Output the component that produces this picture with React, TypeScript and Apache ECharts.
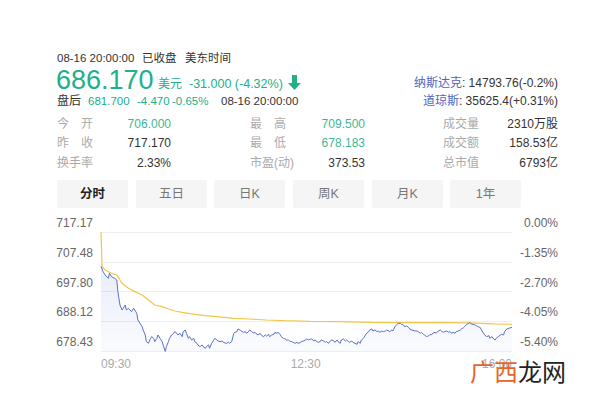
import React, { useEffect, useRef } from "react";
import * as echarts from "echarts";

const FONT = '"Liberation Sans", "Noto Sans CJK SC", sans-serif';
const GREEN = "#22b089";

// minutes since 09:30
const priceMinutes = [
  0, 2, 4, 7, 8, 10, 13, 15, 16, 18, 20, 21, 23, 24, 26, 29, 31, 32, 34, 35,
  37, 39, 40, 42, 43, 45, 47, 48, 50, 51, 53, 54, 56, 58, 59, 61, 62, 64, 65, 67,
  69, 70, 72, 73, 75, 77, 78, 80, 81, 83, 84, 86, 88, 89, 91, 92, 94, 96, 97, 99,
  100, 102, 103, 105, 107, 108, 110, 111, 113, 115, 116, 119, 121, 122, 124, 126, 127, 129, 130, 132,
  133, 135, 137, 138, 140, 141, 143, 145, 146, 148, 149, 151, 152, 154, 156, 157, 159, 160, 162, 164,
  165, 167, 168, 170, 171, 173, 175, 176, 178, 179, 181, 183, 184, 186, 187, 189, 190, 192, 194, 195,
  197, 198,
  200, 202, 203, 205, 206, 208, 209, 211, 213, 214, 216, 217, 219, 221, 222, 224, 225, 227, 228, 230,
  232, 233, 235, 236, 238, 239, 241, 243, 244, 246, 247, 249, 251, 252, 254, 255, 257, 258, 260, 262,
  263, 265, 266, 268, 270, 271, 273, 274, 276, 277, 279, 281, 282, 284, 285, 287, 288, 290, 292, 293,
  295, 298,
  300, 301, 303, 304, 306, 307, 309, 311, 312, 314, 315, 317, 318, 320, 322, 323, 325, 326, 328, 330,
  331, 333, 334, 336, 337, 339, 341, 342, 344, 345, 347, 349, 350, 352, 353, 355, 356, 358, 360, 361,
  363, 364, 366, 368, 369, 371, 372, 374, 375, 377, 379, 380, 382, 383, 385, 387, 390,
];

const prices = [
  706.0, 704.26, 703.18, 702.09, 703.72, 702.63, 702.09, 701.55, 697.75, 693.41,
  691.78, 692.33, 693.41, 691.78, 692.33, 691.24, 692.33, 691.78, 690.7, 688.53,
  687.44, 686.36, 685.27, 683.65, 681.48, 680.93, 682.56, 683.1, 682.56, 681.48,
  682.56, 683.65, 682.56, 681.48, 680.39, 678.18, 679.85, 681.48, 682.56, 683.65,
  684.19, 684.73, 684.19, 683.65, 684.19, 683.1, 684.73, 685.27, 684.19, 682.56,
  683.1, 682.02, 682.56, 681.48, 680.93, 680.39, 679.85, 680.39, 679.85, 679.3,
  679.85, 680.39, 679.3, 680.93, 682.02, 682.56, 682.02, 681.69, 681.48, 681.69,
  681.26, 680.93, 681.26, 680.93, 681.48, 684.19, 684.51, 684.73, 685.6, 685.27,
  684.95, 684.51, 684.73, 684.19, 684.73, 685.27, 684.73, 684.19, 684.51, 683.86,
  683.65, 684.19, 683.65, 683.1, 683.65, 683.32, 683.86, 683.1, 683.65, 683.86,
  684.51, 684.19, 684.51, 683.86, 683.1, 682.56, 682.34, 682.02, 682.02, 681.69,
  681.48, 681.15, 680.93, 681.26, 680.93, 681.15, 681.48, 681.69, 682.02, 682.34,
  682.02, 682.23,
  682.34, 681.69, 682.02, 681.48, 681.26, 681.48, 682.02, 681.69, 681.26, 681.48,
  680.93, 681.48, 682.02, 681.69, 681.26, 682.02, 681.48, 680.93, 682.02, 682.34,
  681.69, 682.02, 681.48, 681.26, 681.69, 681.26, 680.93, 680.61, 681.48, 680.93,
  682.02, 682.56, 683.65, 684.19, 684.73, 685.27, 685.6, 684.95, 685.27, 684.73,
  684.95, 684.51, 684.95, 684.73, 684.95, 685.27, 684.95, 684.73, 685.27, 684.95,
  686.36, 687.12, 687.44, 687.44, 687.12, 686.9, 686.36, 686.58, 686.03, 685.6,
  685.27, 684.95,
  684.95, 684.73, 684.19, 684.51, 683.86, 683.65, 683.1, 683.43, 683.65, 683.86,
  684.19, 684.51, 684.19, 684.95, 685.27, 684.95, 684.51, 684.73, 684.95, 684.51,
  684.73, 684.19, 684.51, 684.19, 684.73, 684.95, 685.27, 685.6, 686.03, 686.36,
  687.12, 687.44, 687.66, 687.12, 687.12, 686.9, 686.68, 686.36, 686.03, 685.27,
  684.19, 683.65, 683.1, 683.43, 682.56, 683.1, 682.56, 682.02, 682.56, 683.1,
  683.65, 683.86, 683.65, 684.73, 685.6, 685.82, 686.17,
];

const avgMinutes = [
  0, 1, 4, 10, 15, 20, 26, 32, 39, 45, 51, 58, 64, 70, 77, 83, 89, 99, 110, 126,
  141, 157, 173, 189, 198, 225, 257, 288, 325, 349, 372, 390,
];
const avgPrices = [
  717.17, 705.89, 704.8, 703.72, 703.18, 700.46, 698.83, 697.75, 696.67, 695.04,
  693.41, 692.87, 692.11, 691.46, 691.02, 690.7, 690.37, 689.94, 689.61, 689.07,
  688.85, 688.53, 688.31, 688.2, 688.09, 687.99, 687.77, 687.66, 687.66, 687.6,
  687.23, 687.12,
];

const priceTicks = [678.43, 688.12, 697.8, 707.48, 717.17];
const pctMin = -5.4;
const pctMax = 0;
const pctInterval = 1.35;
const xTickMinutes = [0, 180, 390];
const xTickLabels = ["09:30", "12:30", "16:00"];

const tabs = ["分时", "五日", "日K", "周K", "月K", "1年"];

const statLabels = [
  ["今　开", "昨　收", "换手率"],
  ["最　高", "最　低", "市盈(动)"],
  ["成交量", "成交额", "总市值"],
];
const statValues = [
  ["706.000", "717.170", "2.33%"],
  ["709.500", "678.183", "373.53"],
  ["2310万股", "158.53亿", "6793亿"],
];
const statGreen = [
  [true, false, false],
  [true, true, false],
  [false, false, false],
];

function txt(x: number, y: number, text: string, fill: string, size = 12, align = "left", weight = "normal") {
  return {
    type: "text",
    x,
    y,
    style: {
      text,
      fill,
      fontSize: size,
      fontFamily: FONT,
      fontWeight: weight,
      align,
      verticalAlign: "middle",
    },
  };
}

export default function App() {
  const ref = useRef<HTMLDivElement>(null);
  useEffect(() => {
    if (!ref.current) return;
    const chart = echarts.init(ref.current, undefined, { renderer: "svg" });

    const graphics: any[] = [];
    // header
    graphics.push(txt(57, 58, "08-16 20:00:00", "#333", 11.5));
    graphics.push(txt(142, 58, "已收盘", "#333", 11.5));
    graphics.push(txt(185, 58, "美东时间", "#333", 11.5));
    graphics.push(txt(56, 80, "686.170", GREEN, 27));
    graphics.push(txt(158, 84, "美元", GREEN, 12));
    graphics.push(txt(189, 84, "-31.000 (-4.32%)", GREEN, 12.5));
    graphics.push({
      type: "polygon",
      shape: {
        points: [
          [292, 75],
          [297, 75],
          [297, 83],
          [301, 83],
          [294.5, 90],
          [288, 83],
          [292, 83],
        ],
      },
      style: { fill: GREEN },
    });
    graphics.push(txt(57, 101, "盘后", "#333", 12));
    graphics.push(txt(88, 101, "681.700", GREEN, 11.5));
    graphics.push(txt(137, 101, "-4.470", GREEN, 11.5));
    graphics.push(txt(172, 101, "-0.65%", GREEN, 11.5));
    graphics.push(txt(221, 101, "08-16 20:00:00", "#333", 11.5));

    const rich = {
      b: { fill: "#4e64c0", fontSize: 12, fontFamily: FONT },
      n: { fill: "#333", fontSize: 12, fontFamily: FONT },
    };
    graphics.push({
      type: "text",
      x: 558,
      y: 83,
      style: { text: "{b|纳斯达克}{n|: 14793.76(-0.2%)}", rich, align: "right", verticalAlign: "middle" },
    });
    graphics.push({
      type: "text",
      x: 558,
      y: 101,
      style: { text: "{b|道琼斯}{n|: 35625.4(+0.31%)}", rich, align: "right", verticalAlign: "middle" },
    });

    // stats
    const labelX = [57, 250, 443];
    const valueX = [171, 365, 558];
    const rowY = [123.5, 143, 162.5];
    for (let c = 0; c < 3; c++) {
      for (let r = 0; r < 3; r++) {
        graphics.push(txt(labelX[c], rowY[r], statLabels[c][r], "#aaa", 12));
        graphics.push(
          txt(valueX[c], rowY[r], statValues[c][r], statGreen[c][r] ? "#3cb894" : "#333", 12, "right")
        );
      }
    }

    // tabs
    const tabX = [57, 136, 214, 293, 372, 450];
    tabs.forEach((t, i) => {
      graphics.push({
        type: "rect",
        shape: { x: tabX[i], y: 180, width: 71, height: 28, r: 2 },
        style: { fill: "#f5f5f5" },
      });
      graphics.push(
        txt(tabX[i] + 35.5, 194, t, i === 0 ? "#222" : "#777", 12.5, "center", i === 0 ? "bold" : "normal")
      );
    });

    // watermark
    graphics.push({
      type: "text",
      x: 470,
      y: 372,
      z: 100,
      style: {
        text: "{o|广西}{d|龙网}",
        rich: {
          o: { fill: "#e5652b", fontSize: 24, fontFamily: FONT },
          d: { fill: "#222", fontSize: 24, fontFamily: FONT },
        },
        verticalAlign: "middle",
      },
    });

    chart.setOption({
      animation: false,
      backgroundColor: "#fff",
      textStyle: { fontFamily: FONT },
      grid: { left: 101, right: 88, top: 232, height: 119 },
      xAxis: {
        type: "value",
        min: 0,
        max: 390,
        axisLine: { show: false },
        axisTick: { show: false },
        splitLine: { show: false },
        axisLabel: {
          customValues: xTickMinutes,
          formatter: (v: number) => {
            const i = xTickMinutes.indexOf(v);
            return i >= 0 ? xTickLabels[i] : "";
          },
          color: "#aaa",
          fontSize: 12,
          margin: 7,
          align: "left",
          alignMinLabel: "left",
          alignMaxLabel: "right",
          fontFamily: FONT,
        },
      },
      yAxis: [
        {
          type: "value",
          min: priceTicks[0],
          max: priceTicks[priceTicks.length - 1],
          position: "left",
          axisLine: { show: false },
          axisTick: { show: false },
          splitLine: { show: false },
          axisLabel: {
            customValues: priceTicks,
            formatter: (v: number) => v.toFixed(2),
            color: "#666",
            fontSize: 12,
            margin: 8,
            verticalAlign: "bottom",
            padding: [0, 0, 3, 0],
            fontFamily: FONT,
          },
        },
        {
          type: "value",
          min: pctMin,
          max: pctMax,
          interval: pctInterval,
          position: "right",
          axisLine: { show: false },
          axisTick: { show: false },
          splitLine: { show: true, lineStyle: { color: "#eeeeee", width: 1 } },
          axisLabel: {
            formatter: (v: number) => (Math.abs(v) < 1e-9 ? 0 : v).toFixed(2) + "%",
            color: "#666",
            fontSize: 12,
            align: "right",
            margin: 46,
            verticalAlign: "bottom",
            padding: [0, 0, 3, 0],
            fontFamily: FONT,
          },
        },
      ],
      series: [
        {
          type: "line",
          yAxisIndex: 0,
          data: priceMinutes.map((t, i) => [t, prices[i]]),
          showSymbol: false,
          lineStyle: { color: "#5b6fc6", width: 1 },
          areaStyle: {
            origin: "start",
            color: new echarts.graphic.LinearGradient(0, 0, 0, 1, [
              { offset: 0, color: "rgba(110,135,220,0.22)" },
              { offset: 1, color: "rgba(110,135,220,0.04)" },
            ]),
          },
          z: 3,
        },
        {
          type: "line",
          yAxisIndex: 0,
          data: avgMinutes.map((t, i) => [t, avgPrices[i]]),
          showSymbol: false,
          lineStyle: { color: "#f0c64a", width: 1.2 },
          z: 2,
        },
      ],
      graphic: graphics,
    });
    return () => chart.dispose();
  }, []);
  return (
    <div
      ref={ref}
      style={{ position: "absolute", left: 0, top: 0, width: 600, height: 400, background: "#fff" }}
    />
  );
}
